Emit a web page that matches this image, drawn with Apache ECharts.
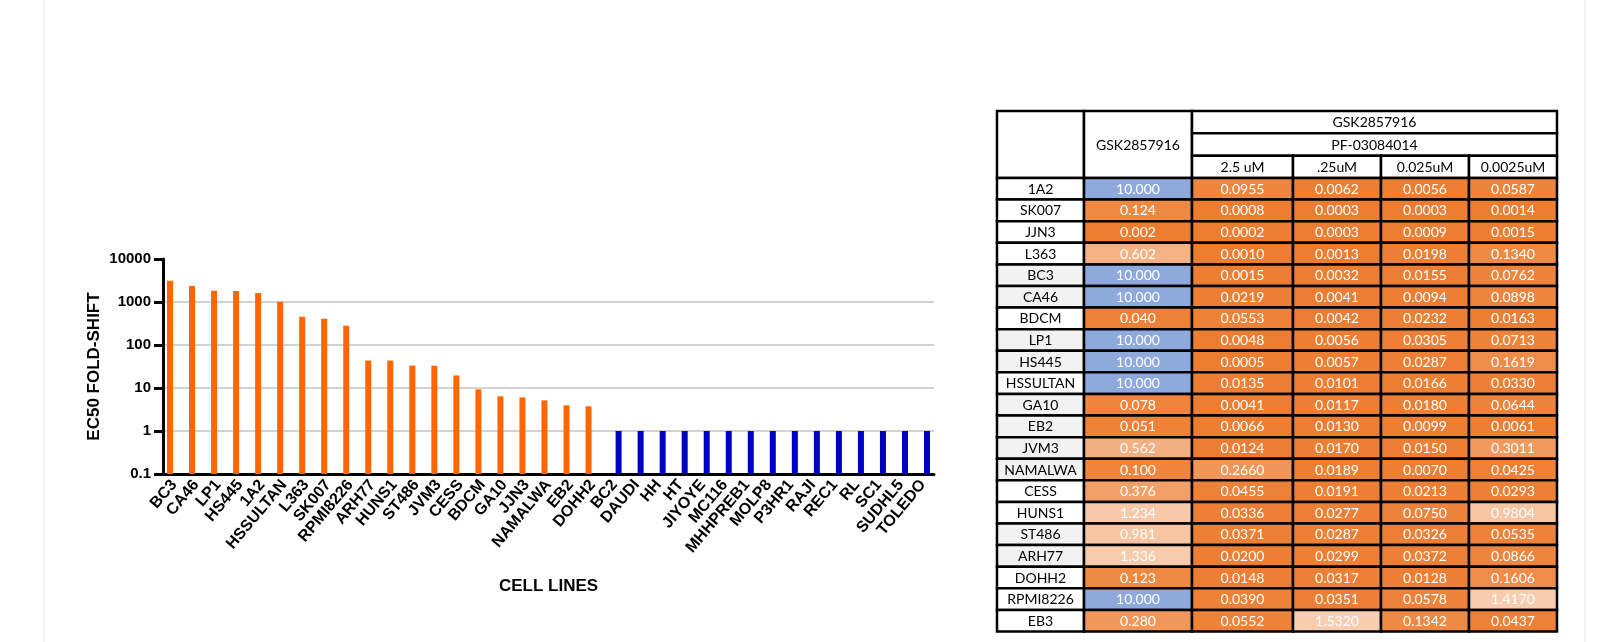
<!DOCTYPE html>
<html><head><meta charset="utf-8">
<script src="https://cdn.jsdelivr.net/npm/echarts@6/dist/echarts.min.js"></script>
<style>
html,body{margin:0;padding:0;background:#fff;}
#frame{position:absolute;left:43px;top:0;width:1539px;height:642px;border-left:2px solid #f2f2f2;border-right:2px solid #f2f2f2;}
#chart{position:absolute;left:0;top:0;width:1623px;height:642px;}
</style></head><body>
<div id="frame"></div><div id="chart"></div>
<script>
// ---------- bar chart data ----------
const cellLines = ['BC3','CA46','LP1','HS445','1A2','HSSULTAN','L363','SK007','RPMI8226','ARH77','HUNS1','ST486','JVM3','CESS','BDCM','GA10','JJN3','NAMALWA','EB2','DOHH2','BC2','DAUDI','HH','HT','JIYOYE','MC116','MHHPREB1','MOLP8','P3HR1','RAJI','REC1','RL','SC1','SUDHL5','TOLEDO'];
const sensitiveShift = [3100,2370,1820,1810,1630,1010,454,408,281,43.5,43.5,33.3,33.0,19.6,9.3,6.4,6.05,5.16,3.95,3.75];
const resistantShift = [1,1,1,1,1,1,1,1,1,1,1,1,1,1,1];
const yTicks = [0.1,1,10,100,1000,10000];

// ---------- table data ----------
const tableRows = ['1A2','SK007','JJN3','L363','BC3','CA46','BDCM','LP1','HS445','HSSULTAN','GA10','EB2','JVM3','NAMALWA','CESS','HUNS1','ST486','ARH77','DOHH2','RPMI8226','EB3'];
const shadedRows = ['BC3','CA46','LP1','HS445','GA10','EB2','JVM3','NAMALWA','ST486','ARH77'];
const gskAlone   = [10.000,0.124,0.002,0.602,10.000,10.000,0.040,10.000,10.000,10.000,0.078,0.051,0.562,0.100,0.376,1.234,0.981,1.336,0.123,10.000,0.280];
const combo2_5   = [0.0955,0.0008,0.0002,0.0010,0.0015,0.0219,0.0553,0.0048,0.0005,0.0135,0.0041,0.0066,0.0124,0.2660,0.0455,0.0336,0.0371,0.0200,0.0148,0.0390,0.0552];
const combo0_25  = [0.0062,0.0003,0.0003,0.0013,0.0032,0.0041,0.0042,0.0056,0.0057,0.0101,0.0117,0.0130,0.0170,0.0189,0.0191,0.0277,0.0287,0.0299,0.0317,0.0351,1.5320];
const combo0_025 = [0.0056,0.0003,0.0009,0.0198,0.0155,0.0094,0.0232,0.0305,0.0287,0.0166,0.0180,0.0099,0.0150,0.0070,0.0213,0.0750,0.0326,0.0372,0.0128,0.0578,0.1342];
const combo0_0025= [0.0587,0.0014,0.0015,0.1340,0.0762,0.0898,0.0163,0.0713,0.1619,0.0330,0.0644,0.0061,0.3011,0.0425,0.0293,0.9804,0.0535,0.0866,0.1606,1.4170,0.0437];
const drugAlone = 'GSK2857916';
const comboTitle = ['GSK2857916','PF-03084014'];
const concLabels = ['2.5 uM','.25uM','0.025uM','0.0025uM'];

// ---------- layout ----------
const FONT_CHART = 'Liberation Sans';
const FONT_TABLE = 'Lato';
const colW = [87,108,101,88,88,88];
const tblLeft = 997, tblTop = 111, headH = 67, tblBottom = 631.5;
const colX = []; colW.reduce((acc,w,i)=>{colX[i]=acc; return acc+w;}, tblLeft);
const dataTop = tblTop + headH, dataH = tblBottom - dataTop;
const subH = headH/3;

// colour scale: orange -> pale peach up to 1.5, pale peach plateau, blue at the 10.000 cap
const scaleColors = ['#ED7D31','#F3AC7C','#F7C6A4','#F8CDB0'];
while (scaleColors.length < 20) scaleColors.push('#F8CDB0');
scaleColors.push('#8EA9DB'); // 21 stops over 0..10, step 0.5

const grids = [{left:163, top:259, width:771, height:215}];
const xAxes = [{
  type:'category', gridIndex:0, data:cellLines,
  axisLine:{lineStyle:{color:'#000', width:3}},
  axisTick:{alignWithLabel:true, length:7, lineStyle:{color:'#000', width:2}},
  axisLabel:{interval:0, rotate:50, margin:8, color:'#000', fontFamily:FONT_CHART, fontWeight:'bold', fontSize:16},
  name:'CELL LINES', nameLocation:'middle', nameGap:104,
  nameTextStyle:{color:'#000', fontFamily:FONT_CHART, fontWeight:'bold', fontSize:17}
}];
const yAxes = [{
  type:'log', logBase:10, gridIndex:0, min:yTicks[0], max:yTicks[yTicks.length-1], startValue:yTicks[0],
  axisLine:{show:true, lineStyle:{color:'#000', width:3}},
  axisTick:{show:true, length:9, lineStyle:{color:'#000', width:3}},
  axisLabel:{margin:12, color:'#000', fontFamily:FONT_CHART, fontWeight:'bold', fontSize:15,
    formatter:v=>String(+(+v).toPrecision(6))},
  splitLine:{show:true, showMaxLine:false, lineStyle:{color:'#d2d2d2', width:2}},
  name:'EC50 FOLD-SHIFT', nameLocation:'middle', nameGap:60, nameRotate:90,
  nameTextStyle:{color:'#000', fontFamily:FONT_CHART, fontWeight:'bold', fontSize:17}
}];
const series = [
  {type:'bar', xAxisIndex:0, yAxisIndex:0, barWidth:6, barGap:'34%', itemStyle:{color:'#ff6600'},
   data:cellLines.map((n,i)=> i<sensitiveShift.length ? sensitiveShift[i] : null)},
  {type:'bar', xAxisIndex:0, yAxisIndex:0, barWidth:6, itemStyle:{color:'#0000c0'},
   data:cellLines.map((n,i)=> i>=sensitiveShift.length ? resistantShift[i-sensitiveShift.length] : null)}
];
const visualSeries = [];

function addBlock(x, y, w, h, cells, useVisual){
  const gi = grids.length;
  grids.push({left:x, top:y, width:w, height:h});
  xAxes.push({type:'category', gridIndex:gi, data:['c'], show:false});
  yAxes.push({type:'category', gridIndex:gi, data:cells.map((c,i)=>'r'+i), inverse:true, show:false});
  series.push({
    type:'custom', xAxisIndex:gi, yAxisIndex:gi, silent:true, animation:false,
    data:cells.map((c,i)=>[0, i, c.value==null?0:c.value]),
    renderItem:(params, api)=>{
      const cell = cells[params.dataIndex];
      const p = api.coord([0, params.dataIndex]);
      const s = api.size([1, 1]);
      const fill = cell.fill || api.visual('color');
      return {type:'group', children:[
        {type:'rect', shape:{x:p[0]-s[0]/2, y:p[1]-s[1]/2, width:s[0], height:s[1]},
         style:{fill:fill, stroke:'#000', lineWidth:2.5}},
        {type:'text', x:p[0], y:p[1]+0.5,
         style:{text:cell.text, fill:cell.color, fontFamily:FONT_TABLE, fontSize:14, align:'center', verticalAlign:'middle'}}
      ]};
    }
  });
  if (useVisual) visualSeries.push(series.length-1);
}

// header blocks
addBlock(colX[0], tblTop, colW[0], headH, [{text:'', fill:'#fff', color:'#000'}], false);
addBlock(colX[1], tblTop, colW[1], headH, [{text:drugAlone, fill:'#fff', color:'#000'}], false);
addBlock(colX[2], tblTop, colW[2]+colW[3]+colW[4]+colW[5], subH*2,
  comboTitle.map(t=>({text:t, fill:'#fff', color:'#000'})), false);
concLabels.forEach((t,k)=>addBlock(colX[2+k], tblTop+subH*2, colW[2+k], subH, [{text:t, fill:'#fff', color:'#000'}], false));

// data blocks
addBlock(colX[0], dataTop, colW[0], dataH,
  tableRows.map(r=>({text:r, fill: shadedRows.includes(r)?'#f2f2f2':'#ffffff', color:'#000'})), false);
addBlock(colX[1], dataTop, colW[1], dataH,
  gskAlone.map(v=>({value:v, text:v.toFixed(3), color:'#fff'})), true);
[combo2_5, combo0_25, combo0_025, combo0_0025].forEach((arr,k)=>
  addBlock(colX[2+k], dataTop, colW[2+k], dataH, arr.map(v=>({value:v, text:v.toFixed(4), color:'#fff'})), true));

const chart = echarts.init(document.getElementById('chart'), null, {renderer:'canvas'});
chart.setOption({
  backgroundColor:'transparent',
  animation:false,
  grid:grids, xAxis:xAxes, yAxis:yAxes, series:series,
  visualMap:[{type:'continuous', show:false, seriesIndex:visualSeries, dimension:2, min:0, max:10,
    inRange:{color:scaleColors}}]
});
</script>
</body></html>
